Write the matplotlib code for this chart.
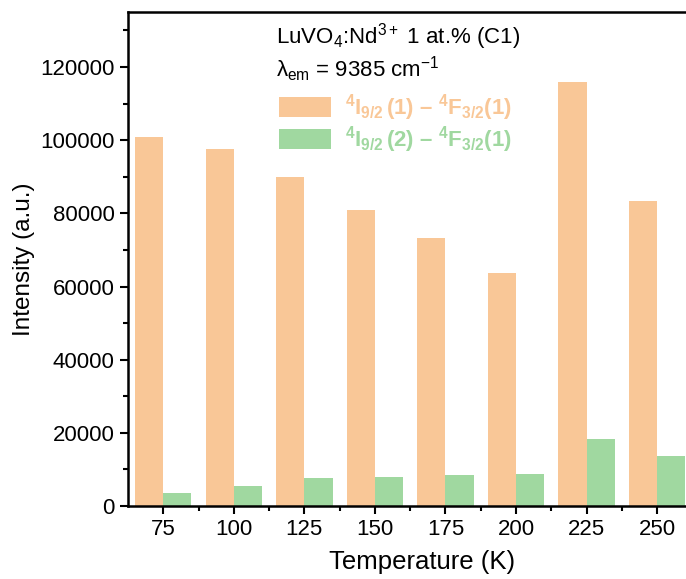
import numpy as np
import matplotlib
matplotlib.use("Agg")
import matplotlib.pyplot as plt
from matplotlib.ticker import MultipleLocator, FixedLocator

plt.rcParams['font.family'] = ['Liberation Sans', 'DejaVu Sans']
plt.rcParams['mathtext.fontset'] = 'custom'
plt.rcParams['mathtext.rm'] = 'Liberation Sans'
plt.rcParams['mathtext.it'] = 'Liberation Sans:italic'
plt.rcParams['mathtext.bf'] = 'Liberation Sans:bold'
plt.rcParams['mathtext.default'] = 'regular'

temps = ['75', '100', '125', '150', '175', '200', '225', '250']
peak1 = [100800, 97500, 89900, 80900, 73200, 63600, 116000, 83500]
peak2 = [3500, 5400, 7600, 7900, 8400, 8800, 18300, 13600]

label1 = r'$\mathbf{^{4}I_{9/2}\,(1)}$ – $\mathbf{^{4}F_{3/2}(1)}$'
label2 = r'$\mathbf{^{4}I_{9/2}\,(2)}$ – $\mathbf{^{4}F_{3/2}(1)}$'
orange = '#F9C797'
green = '#A0D8A0'

fig = plt.figure(figsize=(6.86, 5.79), dpi=100)
ax = fig.add_axes([0.1866, 0.126, 0.8134, 0.853])

x = np.arange(len(temps))
w = 0.4
ax.bar(x - w / 2, peak1, w, color=orange, label=label1)
ax.bar(x + w / 2, peak2, w, color=green, label=label2)

ax.set_xlim(-0.5, 7.41)
ax.set_ylim(0, 135000)
ax.set_xticks(x)
ax.set_xticklabels(temps)
ax.xaxis.set_minor_locator(FixedLocator(x[:-1] + 0.5))
ax.yaxis.set_major_locator(MultipleLocator(20000))
ax.yaxis.set_minor_locator(MultipleLocator(10000))
ax.tick_params(axis='both', which='major', direction='out', length=6, width=1.5, labelsize=16)
ax.tick_params(axis='both', which='minor', direction='out', length=3.5, width=1.5)
for s in ['left', 'bottom', 'top']:
    ax.spines[s].set_linewidth(1.8)
ax.spines['right'].set_visible(False)

ax.set_xlabel('Temperature (K)', fontsize=18.5)
ax.xaxis.set_label_coords(0.527, -0.09)
ax.set_ylabel('Intensity (a.u.)', fontsize=17.5, labelpad=4)

ax.text(0.266, 0.95, r'LuVO$_4$:Nd$^{3+}$ 1 at.% (C1)', transform=ax.transAxes,
        fontsize=16, va='center')
ax.text(0.266, 0.884, r'$\lambda_{em}$ = 9385 cm$^{-1}$', transform=ax.transAxes,
        fontsize=16, va='center')
leg = ax.legend(loc='upper left', bbox_to_anchor=(0.235, 0.878), frameon=False,
                fontsize=16, handlelength=2.35, handleheight=1.0, handletextpad=0.6,
                labelspacing=0.05, labelcolor=[orange, green])
for t in leg.get_texts():
    t.set_fontweight('bold')

fig.savefig('out.png', dpi=100)
